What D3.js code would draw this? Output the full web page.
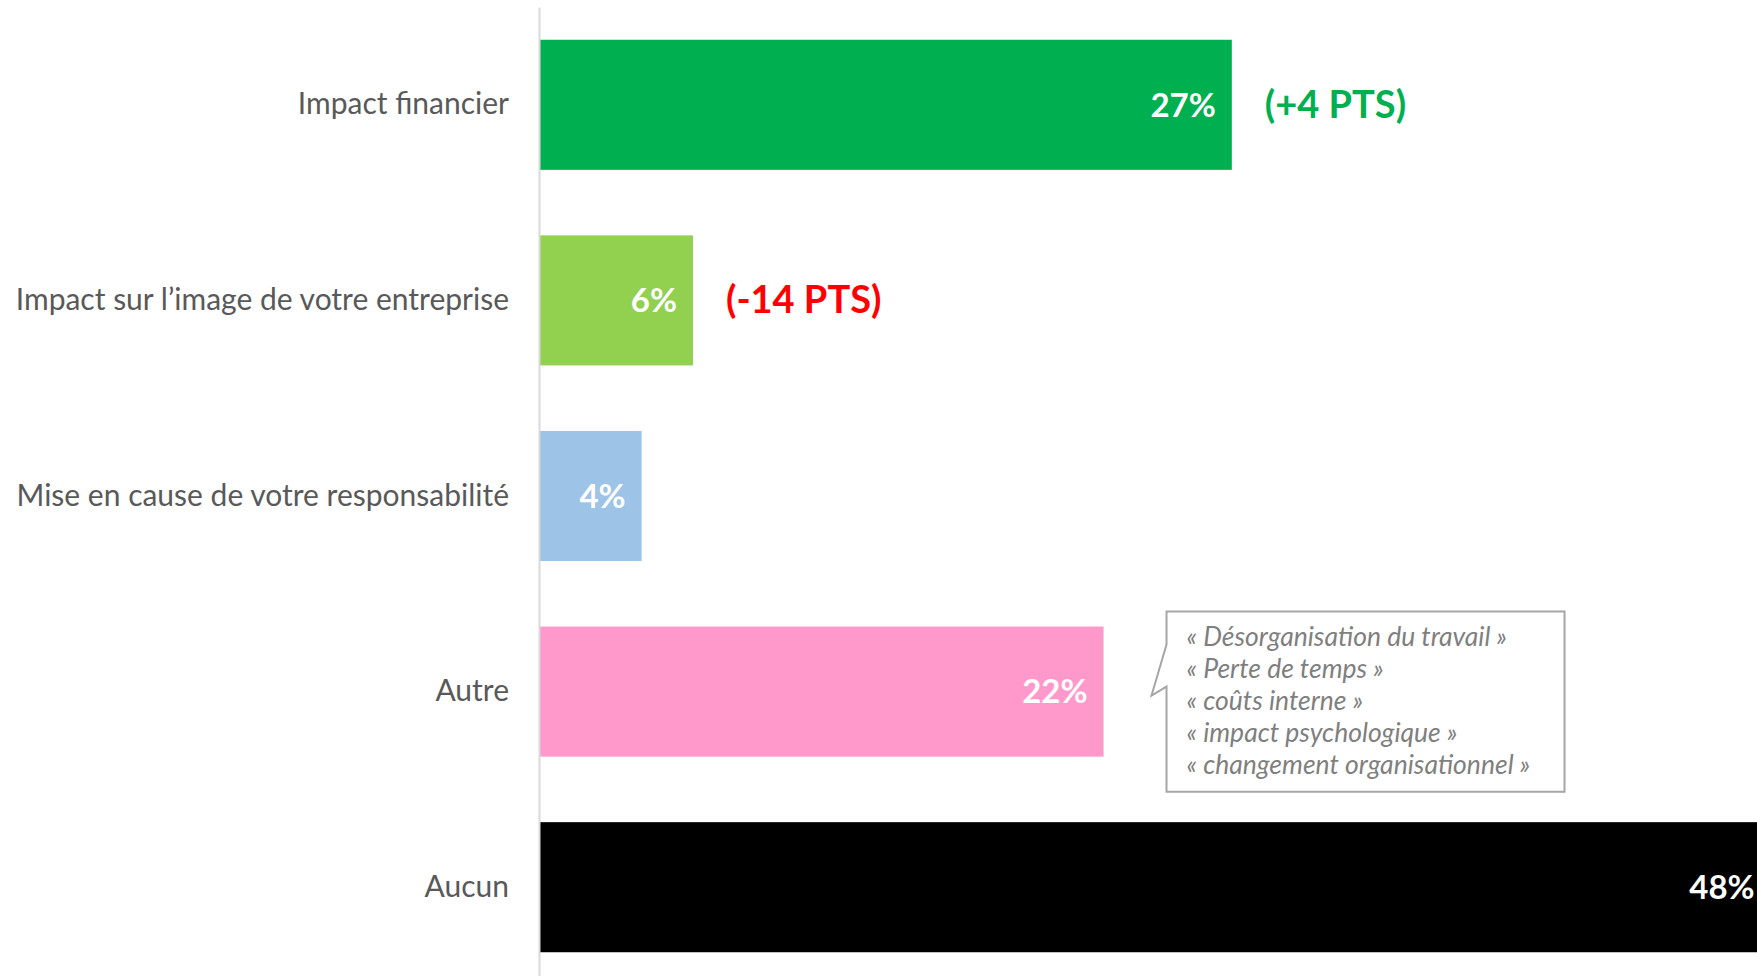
<!DOCTYPE html>
<html>
  <head>
    <meta charset="utf-8">
    <style>
      body { margin: 0; background: #fff; }
      svg { display: block; }
    </style>
  </head>
  <body>
    <svg id="chart" width="1757" height="976"></svg>
    <script src="https://d3js.org/d3.v7.min.js"></script>
    <script>
      // data
      var categories = ["Impact financier", "Impact sur l’image de votre entreprise",
                        "Mise en cause de votre responsabilité", "Autre", "Aucun"];
      var values = [27, 6, 4, 22, 48];
      var barColors = ["#00b050", "#92d050", "#9dc3e6", "#ff99cc", "#000000"];
      var changes = ["(+4 PTS)", "(-14 PTS)", null, null, null];
      var changeColors = ["#00b050", "#ff0000", null, null, null];
      var quotes = ["« Désorganisation du travail »", "« Perte de temps »", "« coûts interne »",
                    "« impact psychologique »", "« changement organisationnel »"];

      var svg = d3.select("#chart"),
          width = +svg.attr("width"),
          height = +svg.attr("height");

      var font = "Lato, 'Open Sans', sans-serif";

      var x = d3.scaleLinear().domain([0, 50]).range([539, 1822]);
      var y = d3.scaleBand().domain(categories).range([7, 985])
          .paddingInner(0.335).paddingOuter(0.1675);

      var rows = categories.map(function(c, i) {
        return {cat: c, value: values[i], color: barColors[i], change: changes[i], changeColor: changeColors[i]};
      });

      svg.selectAll(".bar")
        .data(rows)
        .enter().append("rect")
          .attr("class", "bar")
          .attr("x", x(0))
          .attr("y", function(d) { return y(d.cat); })
          .attr("width", function(d) { return x(d.value) - x(0); })
          .attr("height", y.bandwidth())
          .attr("fill", function(d) { return d.color; });

      // category axis
      var axis = svg.append("g")
          .attr("transform", "translate(" + x(0) + ",0)")
          .call(d3.axisLeft(y).tickSize(0).tickSizeOuter(0).tickPadding(30));
      axis.select(".domain").attr("stroke", "#d9d9d9").attr("stroke-width", 2);
      axis.selectAll("text")
          .attr("font-family", font)
          .attr("font-size", 30)
          .attr("fill", "#595959");

      // values inside bars
      svg.selectAll(".val")
        .data(rows)
        .enter().append("text")
          .attr("class", "val")
          .attr("x", function(d) { return x(d.value) - 16; })
          .attr("y", function(d) { return y(d.cat) + y.bandwidth() / 2; })
          .attr("dy", "0.36em")
          .attr("text-anchor", "end")
          .attr("font-family", font)
          .attr("font-weight", "bold")
          .attr("font-size", 33)
          .attr("fill", "#fff")
          .text(function(d) { return d.value + "%"; });

      // change vs previous wave
      svg.selectAll(".chg")
        .data(rows.filter(function(d) { return d.change; }))
        .enter().append("text")
          .attr("class", "chg")
          .attr("x", function(d) { return x(d.value) + 33; })
          .attr("y", function(d) { return y(d.cat) + y.bandwidth() / 2; })
          .attr("dy", "0.34em")
          .attr("font-family", font)
          .attr("font-weight", "bold")
          .attr("font-size", 38)
          .attr("fill", function(d) { return d.changeColor; })
          .text(function(d) { return d.change; });

      // callout next to "Autre"
      var cy = y("Autre"),
          bx = x(22) + 63, bw = 398,
          by = cy - 15, bh = y.bandwidth() + 50;
      var callout = svg.append("g");
      callout.append("path")
          .attr("d", "M" + bx + "," + by + "H" + (bx + bw) + "V" + (by + bh) + "H" + bx +
                     "V" + (by + 75) + "L" + (bx - 15) + "," + (by + 84) + "L" + bx + "," + (by + 33) + "Z")
          .attr("fill", "#fff")
          .attr("stroke", "#a6a6a6")
          .attr("stroke-width", 2);
      callout.selectAll("text")
        .data(quotes)
        .enter().append("text")
          .attr("x", bx + 20)
          .attr("y", function(d, i) { return by + 25 + i * 32; })
          .attr("dy", "0.35em")
          .attr("font-family", font)
          .attr("font-style", "italic")
          .attr("font-size", 26.5)
          .attr("fill", "#7f7f7f")
          .text(function(d) { return d; });
    </script>
  </body>
</html>
